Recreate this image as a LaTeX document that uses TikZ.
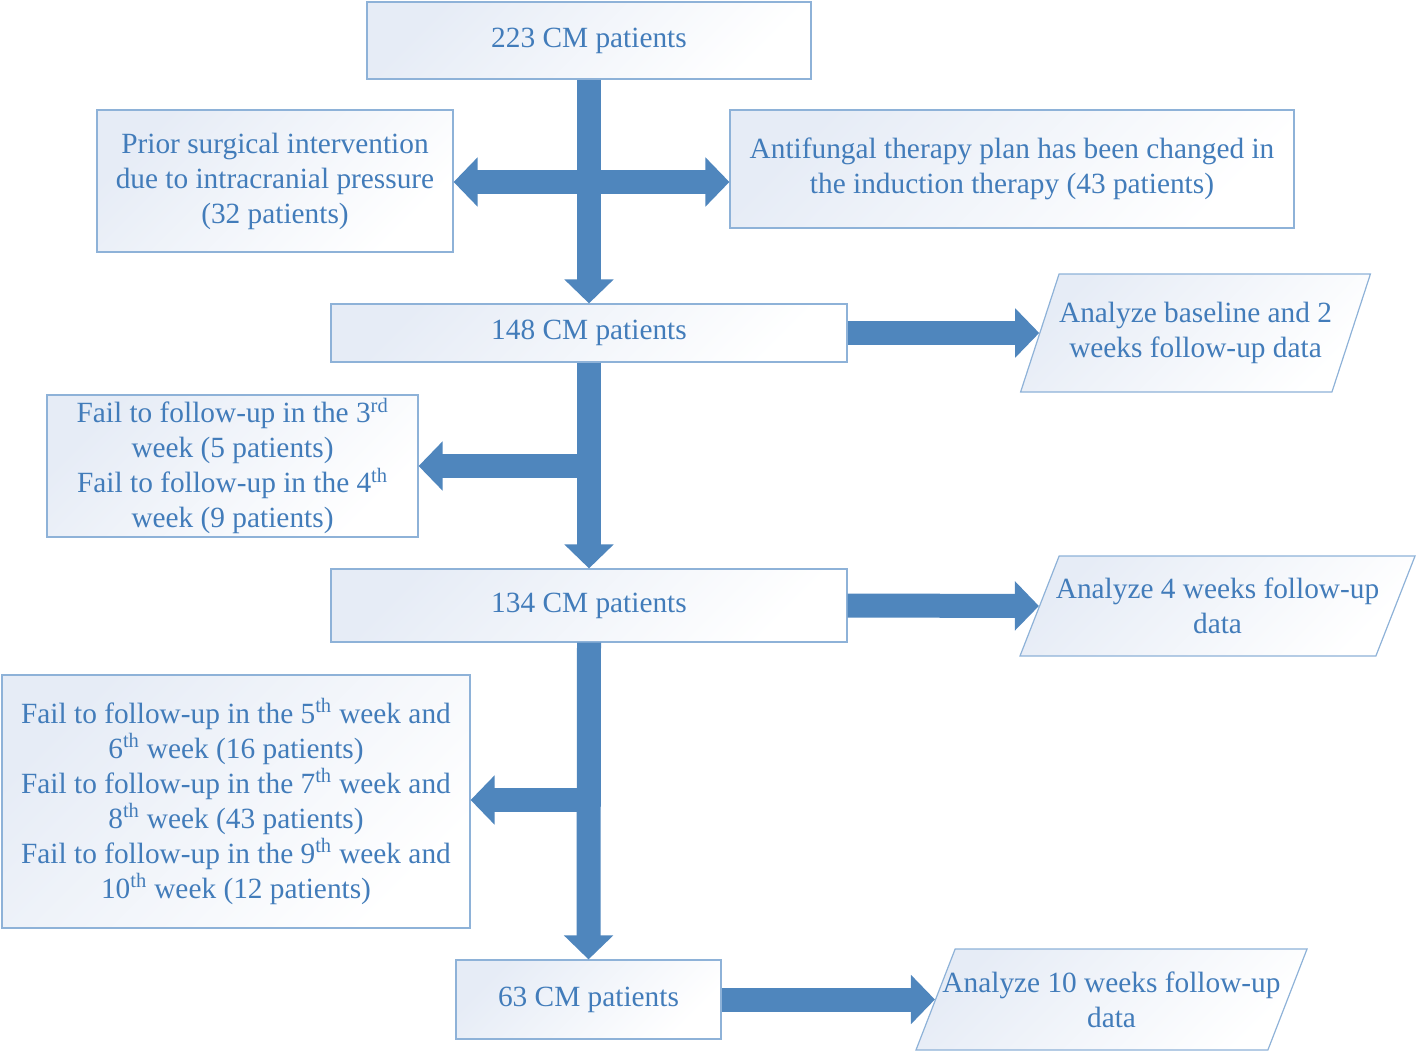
\documentclass[tikz,border=0pt]{standalone}
\usepackage{fontspec}
\setmainfont{Liberation Serif}
\usetikzlibrary{shapes.geometric, arrows.meta, positioning}

\definecolor{arrowblue}{RGB}{79,134,189}
\definecolor{textblue}{RGB}{66,124,186}
\definecolor{edgeblue}{RGB}{142,178,216}
\definecolor{fillblue}{RGB}{230,236,246}

\begin{document}
\begin{tikzpicture}[x=0.75pt, y=-0.75pt,
        box/.style={draw=edgeblue, line width=0.9pt, rectangle, align=center, text=textblue,
            font=\fontsize{22}{26.25}\selectfont, top color=fillblue, bottom color=white,
            shading angle=45, inner sep=0pt},
        slanted/.style={box, trapezium, trapezium left angle=55, trapezium right angle=125,
            trapezium stretches body},
        bigarrow/.style={draw=arrowblue, line width=18pt, -{Triangle[width=36pt, length=18pt]}}
    ]
        \useasboundingbox (0,0) rectangle (1416,1053);

        % Main column
        \node[box, minimum width=333pt, minimum height=57.75pt] (n223) at (589,40.5) {223 CM patients};
        \node[box, minimum width=387pt, minimum height=43.5pt] (n148) at (589,333) {148 CM patients};
        \node[box, minimum width=387pt, minimum height=54.75pt] (n134) at (589,605.5) {134 CM patients};
        \node[box, minimum width=198.75pt, minimum height=59.25pt] (n63) at (588.5,999.5) {63 CM patients};

        % Excluded patients
        \node[box, minimum width=267pt, minimum height=106.5pt] (surgery) at (275,181) {Prior surgical intervention\\due to intracranial pressure\\(32 patients)};
        \node[box, minimum width=423pt, minimum height=88.5pt] (antifungal) at (1012,169) {Antifungal therapy plan has been changed in\\the induction therapy (43 patients)};
        \node[box, minimum width=278.25pt, minimum height=106.5pt] (lost34) at (232.5,466) {Fail to follow-up in the 3\textsuperscript{rd}\\week (5 patients)\\Fail to follow-up in the 4\textsuperscript{th}\\week (9 patients)};
        \node[box, minimum width=351pt, minimum height=189.75pt] (lost510) at (236,801.5) {Fail to follow-up in the 5\textsuperscript{th} week and\\6\textsuperscript{th} week (16 patients)\\Fail to follow-up in the 7\textsuperscript{th} week and\\8\textsuperscript{th} week (43 patients)\\Fail to follow-up in the 9\textsuperscript{th} week and\\10\textsuperscript{th} week (12 patients)};

        % Analyses
        \node[slanted, trapezium left angle=58, trapezium right angle=122, minimum width=261.75pt, minimum height=88.5pt] (ana2) at (1195.5,333) {Analyze baseline and 2\\weeks follow-up data};
        \node[slanted, inner xsep=-2.5pt, minimum height=75pt] (ana4) at (1217.5,606) {Analyze 4 weeks follow-up\\data};
        \node[slanted, inner xsep=-9.5pt, minimum height=75.75pt] (ana10) at (1111.5,999.5) {Analyze 10 weeks follow-up\\data};

        % Arrows
        \coordinate (split1) at (589,182);
        \coordinate (split2) at (589,466);
        \coordinate (split3) at (589,800);

        \draw[bigarrow] (split1) -- (surgery.east |- split1);
        \draw[bigarrow] (split1) -- (antifungal.west |- split1);
        \draw[bigarrow] (n223.south) -- (n148.north);

        \draw[bigarrow] (split2) -- (lost34.east |- split2);
        \draw[bigarrow] (n148.south) -- (n134.north);

        \draw[bigarrow] (split3) -- (lost510.east |- split3);
        \draw[bigarrow] (n134.south) -- (n63.north);

        \draw[bigarrow] (n148.east) -- (ana2.left side);
        \draw[bigarrow] (n134.east) -- (ana4.left side);
        \draw[bigarrow] (n63.east) -- (ana10.left side);
    \end{tikzpicture}
\end{document}
